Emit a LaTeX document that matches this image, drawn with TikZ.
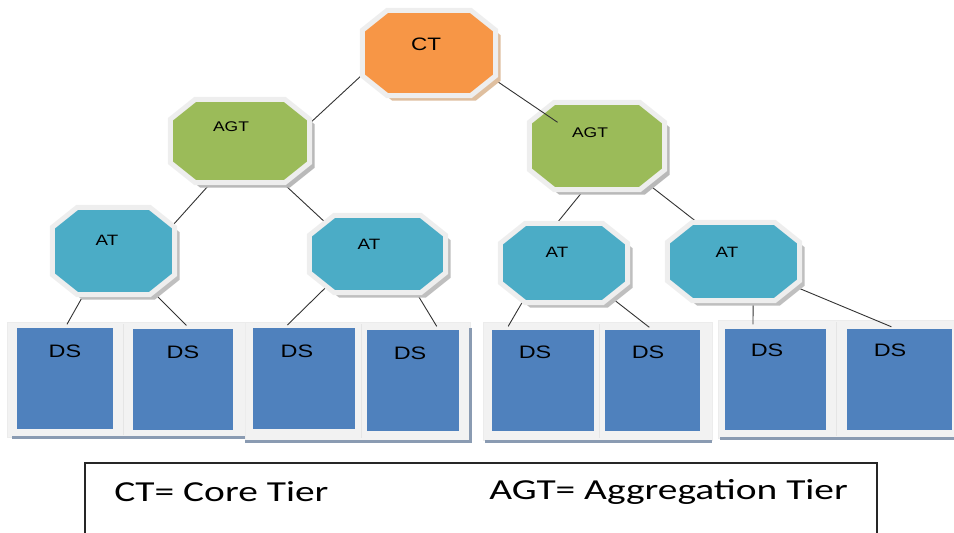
\documentclass[tikz,border=0pt]{standalone}
\usepackage{fontspec}
\setmainfont{Carlito}
\setsansfont{Liberation Sans}
\definecolor{coreorange}{HTML}{F79646}
\definecolor{agggreen}{HTML}{9BBB59}
\definecolor{accaqua}{HTML}{4BACC6}
\definecolor{dsblue}{HTML}{4F81BD}
\definecolor{rimgray}{HTML}{EEEEEE}
\definecolor{framegray}{HTML}{F2F2F2}
\definecolor{baseslate}{HTML}{8A9BB2}
\tikzset{
  tier/.style={rectangle, inner sep=0pt},
  rim/.style={draw=rimgray, line width=5pt},
  tierlbl/.style={font=\sffamily\fontsize{#1}{#1}\selectfont, inner sep=0pt,
    xscale=1.25, transform shape},
  store/.style={rectangle, fill=dsblue, inner sep=0pt, minimum width=#1,
    minimum height=101pt},
  dslbl/.style={font=\sffamily\fontsize{18}{18}\selectfont, inner sep=0pt,
    xscale=1.3, transform shape},
  frame/.style={fill=framegray, draw=gray!15},
  base/.style={baseslate, line width=3pt},
  link/.style={black!80, line width=.9pt},
  key/.style={font=\fontsize{29}{29}\selectfont, inner sep=0pt, anchor=west,
    xscale=1.36, transform shape}
}
% octagon round a tier node: shadow, then rim and fill
\newcommand\tieroct[3]{%
  \begin{scope}[transform canvas={shift={(5pt,-5pt)}}]
    \fill[#3] ([yshift=20pt]#1.north west) -- ([yshift=20pt]#1.north east)
      -- ([xshift=25pt]#1.north east) -- ([xshift=25pt]#1.south east)
      -- ([yshift=-20pt]#1.south east) -- ([yshift=-20pt]#1.south west)
      -- ([xshift=-25pt]#1.south west) -- ([xshift=-25pt]#1.north west) -- cycle;
  \end{scope}
  \draw[rim, fill=#2] ([yshift=20pt]#1.north west) -- ([yshift=20pt]#1.north east)
    -- ([xshift=25pt]#1.north east) -- ([xshift=25pt]#1.south east)
    -- ([yshift=-20pt]#1.south east) -- ([yshift=-20pt]#1.south west)
    -- ([xshift=-25pt]#1.south west) -- ([xshift=-25pt]#1.north west) -- cycle;}
\begin{document}
\begin{tikzpicture}[x=1pt,y=-1pt]
\useasboundingbox (0,0) rectangle (954,533);
% storage groups
\draw[frame] (7,322) rectangle (245,437);
\draw[frame] (245,322) rectangle (470,440);
\draw[frame] (483,322) rectangle (712,440);
\draw[frame] (718,320) rectangle (954,438);
\draw[base] (12,437) -- (245,437);
\draw[base] (245,441) -- (470,441) -- (470,328);
\draw[base] (485,441) -- (712,441);
\draw[base] (720,438) -- (954,438);
\draw[gray!20, line width=1pt] (123,324) -- (123,435);
\draw[gray!20, line width=1pt] (361,324) -- (361,438);
\draw[gray!20, line width=1pt] (599,324) -- (599,438);
\draw[gray!20, line width=1pt] (836,322) -- (836,436);
\node[store=96pt] (ds1) at (65,378.5) {};
\node[store=100pt] (ds2) at (183,379) {};
\node[store=102pt] (ds3) at (304,378.5) {};
\node[store=92pt] (ds4) at (413,380.5) {};
\node[store=102pt] (ds5) at (543,380.5) {};
\node[store=95pt] (ds6) at (652.5,380.5) {};
\node[store=101pt] (ds7) at (775.5,379) {};
\node[store=105pt] (ds8) at (899.5,379) {};
\node[dslbl] (ds1l) at (65,351) {DS};
\node[dslbl] (ds2l) at (183,352) {DS};
\node[dslbl] (ds3l) at (297,351) {DS};
\node[dslbl] (ds4l) at (410,353) {DS};
\node[dslbl] (ds5l) at (535,352) {DS};
\node[dslbl] (ds6l) at (648,352) {DS};
\node[dslbl] (ds7l) at (767,350) {DS};
\node[dslbl] (ds8l) at (890,350) {DS};
% tiers
\node[tier, minimum width=83pt, minimum height=45pt] (ct) at (429,53) {};
\node[tier, minimum width=89pt, minimum height=43pt] (agt1) at (240,141) {};
\node[tier, minimum width=85pt, minimum height=47pt] (agt2) at (597,146) {};
\node[tier, minimum width=72pt, minimum height=47pt] (at1) at (113.5,251) {};
\node[tier, minimum width=86pt, minimum height=37pt] (at2) at (377.5,254) {};
\node[tier, minimum width=77pt, minimum height=39pt] (at3) at (564,263) {};
\node[tier, minimum width=82pt, minimum height=38pt] (at4) at (733.5,261.5) {};
% links
\draw[link] (ct.178) -- (agt1.353);
\draw[link] (agt1.243) -- (at1.0);
\draw[link] (agt1.314) -- (at2.154);
\draw[link] (agt2.278) -- (at3.140);
\draw[link] (agt2.324) -- (at4.119);
\draw[link, shorten >=4pt] (at1.232) -- (ds1.90);
\draw[link, shorten >=4pt] (at1.313) -- (ds2.83);
\draw[link, shorten >=4pt] (at2.207) -- (ds3.111);
\draw[link, shorten >=4pt] (at2.325) -- (ds4.63);
\draw[link, shorten >=4pt] (at3.213) -- (ds5.126);
\draw[link, shorten >=4pt] (at3.325) -- (ds6.90);
\draw[link, shorten >=4pt] (at4.316) -- (ds7.114);
\draw[link, shorten >=4pt] (at4.338) -- (ds8.95);
\tieroct{agt2}{agggreen}{gray!55}
\draw[link] (ct.346) -- (agt2.149);
\tieroct{ct}{coreorange}{brown!50}
\tieroct{agt1}{agggreen}{gray!55}
\tieroct{at1}{accaqua}{gray!50}
\tieroct{at2}{accaqua}{gray!50}
\tieroct{at3}{accaqua}{gray!50}
\tieroct{at4}{accaqua}{gray!50}
\node[tierlbl=18] (ctl) at (426,44) {CT};
\node[tierlbl=14] (agt1l) at (231,127) {AGT};
\node[tierlbl=14] (agt2l) at (590,133) {AGT};
\node[tierlbl=15] (at1l) at (107,240) {AT};
\node[tierlbl=15] (at2l) at (369,244) {AT};
\node[tierlbl=15] (at3l) at (557,252) {AT};
\node[tierlbl=15] (at4l) at (727,252) {AT};
% key
\draw[black!85, line width=1.3pt] (85,545) |- (877,463) -- (877,545);
\node[key] (ctkey) at (114,492) {CT= Core Tier};
\node[key] (agtkey) at (489,492) {AGT= Aggregation Tier};
\end{tikzpicture}
\end{document}
